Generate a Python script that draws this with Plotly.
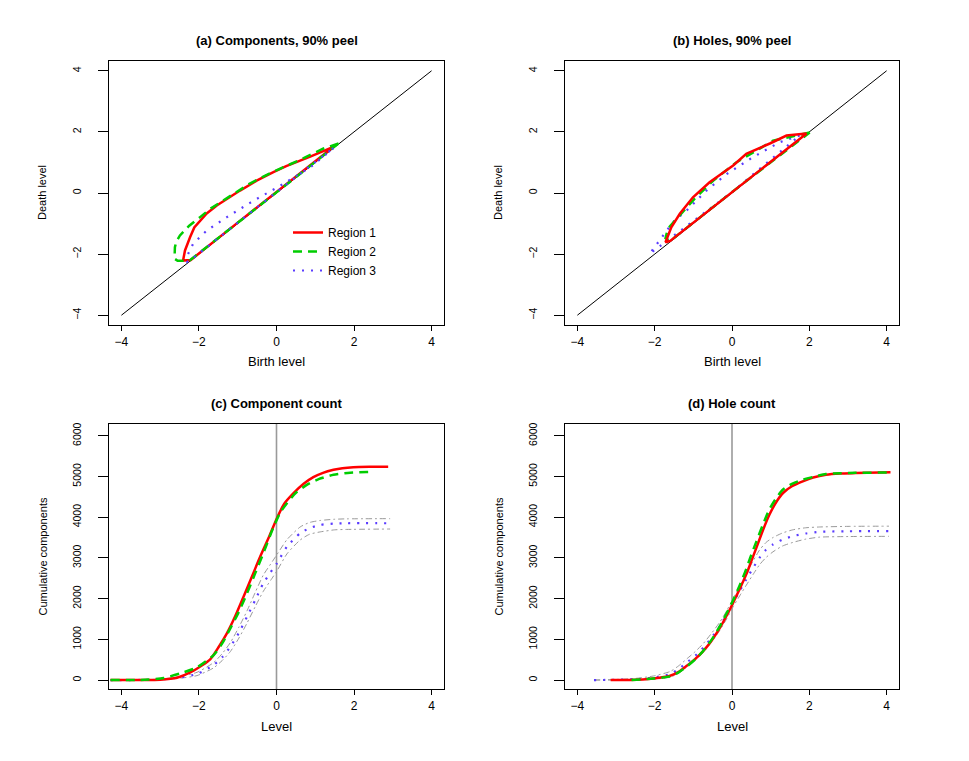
import plotly.graph_objects as go

RED = "#ff0000"
GREEN = "#00cd00"
BLUE = "#5a3cff"
GREY = "#9a9a9a"

# (a) Components, 90% peel: persistence loops (birth, death)
comp_r1_birth = [1.48, 1.20, 0.90, 0.61, 0.25, -0.08, -0.50, -0.94, -1.25, -1.54, -1.80, -1.97, -2.12, -2.23, -2.36, -2.41, -2.21, -1.00, 0.00, 1.00, 1.48]
comp_r1_death = [1.52, 1.36, 1.21, 1.06, 0.88, 0.68, 0.41, 0.08, -0.16, -0.41, -0.67, -0.90, -1.13, -1.45, -1.88, -2.21, -2.19, -0.97, 0.03, 1.03, 1.52]
comp_r2_birth = [1.60, 1.20, 0.60, -0.08, -0.70, -1.37, -1.70, -1.97, -2.25, -2.49, -2.58, -2.62, -2.63, -2.55, -2.25, 0.00, 1.60]
comp_r2_death = [1.62, 1.45, 1.08, 0.70, 0.30, -0.25, -0.51, -0.79, -1.07, -1.39, -1.58, -1.77, -2.15, -2.22, -2.22, 0.02, 1.62]
comp_r3_birth = [1.47, 0.87, 0.10, -0.59, -1.28, -1.80, -2.15, -2.32, -2.30, -2.20, 0.00, 1.47]
comp_r3_death = [1.47, 0.84, 0.24, -0.25, -0.79, -1.23, -1.66, -2.10, -2.25, -2.18, 0.03, 1.47]

# (b) Holes, 90% peel
hole_r1_birth = [1.93, 1.41, 0.98, 0.37, 0.03, -0.58, -1.01, -1.35, -1.57, -1.70, -1.72, -1.60, 0.00, 1.93]
hole_r1_death = [1.95, 1.88, 1.62, 1.28, 0.90, 0.35, -0.14, -0.68, -1.12, -1.50, -1.61, -1.57, 0.03, 1.95]
hole_r2_birth = [2.01, 1.06, 0.11, -0.49, -0.97, -1.44, -1.66, -1.72, -1.60, 0.00, 2.01]
hole_r2_death = [1.98, 1.71, 1.00, 0.40, -0.19, -0.85, -1.17, -1.48, -1.57, 0.03, 1.98]
hole_r3_birth = [1.75, 1.23, 0.54, -0.14, -0.66, -1.18, -1.53, -1.85, -2.13, 0.00, 1.75]
hole_r3_death = [1.88, 1.66, 1.17, 0.62, 0.08, -0.58, -0.96, -1.50, -1.99, 0.03, 1.88]

# (c) Component count
comp_r1_level = [-4.28, -3.50, -3.00, -2.57, -2.14, -1.71, -1.50, -1.28, -1.06, -0.85, -0.63, -0.42, -0.20, 0.01, 0.20, 0.44, 0.70, 0.95, 1.20, 1.47, 1.70, 1.98, 2.40, 2.88]
comp_r1_count = [0, 0, 8, 57, 229, 509, 800, 1148, 1580, 2049, 2550, 3032, 3500, 3975, 4330, 4590, 4820, 4984, 5090, 5164, 5205, 5230, 5237, 5237]
comp_r2_level = [-4.28, -3.50, -2.91, -2.48, -2.05, -1.62, -1.40, -1.19, -0.97, -0.76, -0.55, -0.34, -0.08, 0.10, 0.27, 0.50, 0.78, 1.10, 1.47, 1.90, 2.33, 2.45]
comp_r2_count = [0, 3, 50, 164, 312, 615, 900, 1271, 1680, 2131, 2620, 3115, 3750, 4120, 4345, 4600, 4795, 4940, 5041, 5095, 5110, 5112]
comp_r3_level = [-4.28, -3.50, -2.91, -2.48, -2.05, -1.62, -1.40, -1.19, -0.97, -0.76, -0.55, -0.34, -0.15, 0.01, 0.27, 0.61, 0.85, 1.13, 1.50, 1.81, 2.93]
comp_r3_count = [0, 2, 20, 66, 148, 369, 560, 819, 1160, 1557, 1960, 2377, 2650, 2868, 3278, 3606, 3730, 3811, 3845, 3852, 3852]
comp_r3_hi = [0, 5, 30, 90, 190, 430, 650, 920, 1300, 1700, 2150, 2580, 2850, 3080, 3450, 3760, 3870, 3920, 3950, 3960, 3965]
comp_r3_lo = [0, 0, 10, 45, 110, 300, 480, 700, 1030, 1400, 1800, 2180, 2450, 2680, 3100, 3440, 3580, 3640, 3690, 3700, 3710]

# (d) Hole count
hole_r1_level = [-3.14, -2.63, -2.03, -1.60, -1.38, -1.17, -0.95, -0.74, -0.52, -0.31, -0.14, 0.03, 0.20, 0.37, 0.50, 0.63, 0.80, 0.97, 1.15, 1.32, 1.55, 1.83, 2.10, 2.43, 2.80, 3.20, 4.10]
hole_r1_count = [0, 0, 39, 105, 200, 350, 520, 718, 980, 1288, 1580, 1900, 2240, 2596, 2920, 3248, 3680, 4066, 4380, 4595, 4760, 4881, 4975, 5045, 5075, 5085, 5102]
hole_r2_level = [-2.60, -2.03, -1.60, -1.38, -1.17, -0.95, -0.74, -0.52, -0.31, -0.14, 0.03, 0.20, 0.37, 0.50, 0.63, 0.80, 0.97, 1.15, 1.32, 1.55, 1.83, 2.10, 2.43, 2.80, 3.20, 4.05]
hole_r2_count = [0, 40, 90, 190, 330, 510, 720, 1000, 1330, 1640, 1960, 2330, 2730, 3080, 3400, 3820, 4200, 4480, 4680, 4820, 4920, 4990, 5060, 5080, 5090, 5100]
hole_r3_level = [-3.57, -3.00, -2.50, -2.03, -1.60, -1.38, -1.17, -0.95, -0.74, -0.52, -0.31, -0.14, 0.03, 0.20, 0.37, 0.55, 0.71, 0.88, 1.06, 1.30, 1.57, 1.90, 2.26, 3.00, 4.06]
hole_r3_count = [0, 5, 20, 60, 147, 270, 431, 600, 799, 1050, 1330, 1600, 1900, 2190, 2473, 2760, 3003, 3200, 3330, 3450, 3534, 3600, 3640, 3655, 3657]
hole_r3_hi = [0, 15, 40, 100, 210, 350, 520, 700, 900, 1160, 1430, 1700, 2000, 2310, 2620, 2930, 3190, 3380, 3500, 3610, 3690, 3740, 3760, 3775, 3780]
hole_r3_lo = [0, 0, 2, 20, 70, 170, 320, 490, 680, 940, 1230, 1500, 1800, 2070, 2330, 2600, 2830, 3010, 3150, 3290, 3380, 3460, 3510, 3525, 3530]

diag = [-4, 4]
ticks_level = [-4, -2, 0, 2, 4]
ticks_count = [0, 1000, 2000, 3000, 4000, 5000, 6000]

W, H = 969, 761
OFF = 8  # the page body margin shifts the figure by this many pixels
FONT = "Liberation Sans, Arial, sans-serif"

# panel boxes in screen pixels (left, right, top, bottom)
boxes = {
    "a": (109, 444, 61, 325),
    "b": (565, 899, 61, 325),
    "c": (109, 444, 424, 689),
    "d": (565, 899, 424, 689),
}


def px(x):
    return (x - OFF) / W


def py(y):
    return 1 - (y - OFF) / H


def dom_x(b):
    return [px(b[0]), px(b[1])]


def dom_y(b):
    return [py(b[3]), py(b[2])]


fig = go.Figure()

solid = dict(color=RED, width=2.5)
dashed = dict(color=GREEN, width=2.5, dash="9px,6px")
dotted = dict(color=BLUE, width=2.2, dash="2px,7px")
band = dict(color=GREY, width=1, dash="6px,3px,2px,3px")
smooth = dict(shape="spline", smoothing=0.6)

# (a)
fig.add_trace(go.Scatter(x=diag, y=diag, mode="lines", line=dict(color="black", width=1),
                         showlegend=False, xaxis="x", yaxis="y"))
fig.add_trace(go.Scatter(x=comp_r1_birth, y=comp_r1_death, mode="lines", line=solid,
                         name="Region 1", xaxis="x", yaxis="y"))
fig.add_trace(go.Scatter(x=comp_r2_birth, y=comp_r2_death, mode="lines", line=dashed,
                         name="Region 2", xaxis="x", yaxis="y"))
fig.add_trace(go.Scatter(x=comp_r3_birth, y=comp_r3_death, mode="lines", line=dotted,
                         name="Region 3", xaxis="x", yaxis="y"))

# (b)
fig.add_trace(go.Scatter(x=diag, y=diag, mode="lines", line=dict(color="black", width=1),
                         showlegend=False, xaxis="x2", yaxis="y2"))
for bx, dy, ln in [(hole_r3_birth, hole_r3_death, dotted),
                   (hole_r2_birth, hole_r2_death, dashed),
                   (hole_r1_birth, hole_r1_death, solid)]:
    fig.add_trace(go.Scatter(x=bx, y=dy, mode="lines", line=ln, showlegend=False,
                             xaxis="x2", yaxis="y2"))

# (c)
for yy, ln in [(comp_r3_hi, band), (comp_r3_lo, band), (comp_r3_count, dotted)]:
    fig.add_trace(go.Scatter(x=comp_r3_level, y=yy, mode="lines", line=dict(ln, **smooth),
                             showlegend=False, xaxis="x3", yaxis="y3"))
fig.add_trace(go.Scatter(x=comp_r1_level, y=comp_r1_count, mode="lines", line=dict(solid, **smooth),
                         showlegend=False, xaxis="x3", yaxis="y3"))
fig.add_trace(go.Scatter(x=comp_r2_level, y=comp_r2_count, mode="lines", line=dict(dashed, **smooth),
                         showlegend=False, xaxis="x3", yaxis="y3"))

# (d)
for yy, ln in [(hole_r3_hi, band), (hole_r3_lo, band), (hole_r3_count, dotted)]:
    fig.add_trace(go.Scatter(x=hole_r3_level, y=yy, mode="lines", line=dict(ln, **smooth),
                             showlegend=False, xaxis="x4", yaxis="y4"))
fig.add_trace(go.Scatter(x=hole_r1_level, y=hole_r1_count, mode="lines", line=dict(solid, **smooth),
                         showlegend=False, xaxis="x4", yaxis="y4"))
fig.add_trace(go.Scatter(x=hole_r2_level, y=hole_r2_count, mode="lines", line=dict(dashed, **smooth),
                         showlegend=False, xaxis="x4", yaxis="y4"))

# vertical reference lines at level 0
for xa, ya in [("x3", "y3"), ("x4", "y4")]:
    fig.add_shape(type="line", xref=xa, yref=f"{ya} domain", x0=0, x1=0, y0=0, y1=1,
                  line=dict(color=GREY, width=1.6), layer="below")

xcommon = dict(range=[-4.32, 4.32], tickvals=ticks_level, showline=True, mirror=True,
               linecolor="black", linewidth=1, ticks="outside", ticklen=5, tickcolor="black",
               showgrid=False, zeroline=False, automargin=False,
               tickfont=dict(family=FONT, size=12, color="black"), ticklabelstandoff=1)
ycommon = dict(showline=True, mirror=True, linecolor="black", linewidth=1, ticks="outside",
               ticklen=10, tickcolor="black", showgrid=False, zeroline=False, tickangle=-90,
               automargin=False, tickfont=dict(family=FONT, size=10.5, color="black"),
               ticklabelstandoff=13)

layout = {}
for i, key in enumerate("abcd"):
    sfx = "" if i == 0 else str(i + 1)
    b = boxes[key]
    layout["xaxis" + sfx] = dict(xcommon, domain=dom_x(b), anchor="y" + sfx)
    if key in "ab":
        layout["yaxis" + sfx] = dict(ycommon, domain=dom_y(b), anchor="x" + sfx,
                                     range=[-4.32, 4.32], tickvals=ticks_level)
    else:
        layout["yaxis" + sfx] = dict(ycommon, domain=dom_y(b), anchor="x" + sfx,
                                     range=[-220, 6290], tickvals=ticks_count)

titles = {
    "a": "(a) Components, 90% peel",
    "b": "(b) Holes, 90% peel",
    "c": "(c) Component count",
    "d": "(d) Hole count",
}
xlabels = {"a": "Birth level", "b": "Birth level", "c": "Level", "d": "Level"}
ylabels = {"a": "Death level", "b": "Death level",
           "c": "Cumulative components", "d": "Cumulative components"}

annotations = []
for key, b in boxes.items():
    cx = px((b[0] + b[1]) / 2)
    annotations.append(dict(text=f"<b>{titles[key]}</b>", x=cx, y=py(b[2] - 21),
                            xref="paper", yref="paper", showarrow=False,
                            xanchor="center", yanchor="middle",
                            font=dict(family=FONT, size=13, color="black")))
    annotations.append(dict(text=xlabels[key], x=cx, y=py(b[3] + 37),
                            xref="paper", yref="paper", showarrow=False,
                            xanchor="center", yanchor="middle",
                            font=dict(family=FONT, size=13, color="black")))
    annotations.append(dict(text=ylabels[key], x=px(b[0] - 67), y=py((b[2] + b[3]) / 2),
                            xref="paper", yref="paper", showarrow=False, textangle=-90,
                            xanchor="center", yanchor="middle",
                            font=dict(family=FONT, size=11, color="black")))

fig.update_layout(
    width=W,
    height=H,
    margin=dict(l=0, r=0, t=0, b=0),
    paper_bgcolor="white",
    plot_bgcolor="white",
    annotations=annotations,
    legend=dict(x=px(288), y=py(218), xanchor="left", yanchor="top",
                bgcolor="rgba(0,0,0,0)", font=dict(family=FONT, size=12, color="black"),
                itemwidth=30, tracegroupgap=0),
    **layout,
)

fig.write_html("out.html")
